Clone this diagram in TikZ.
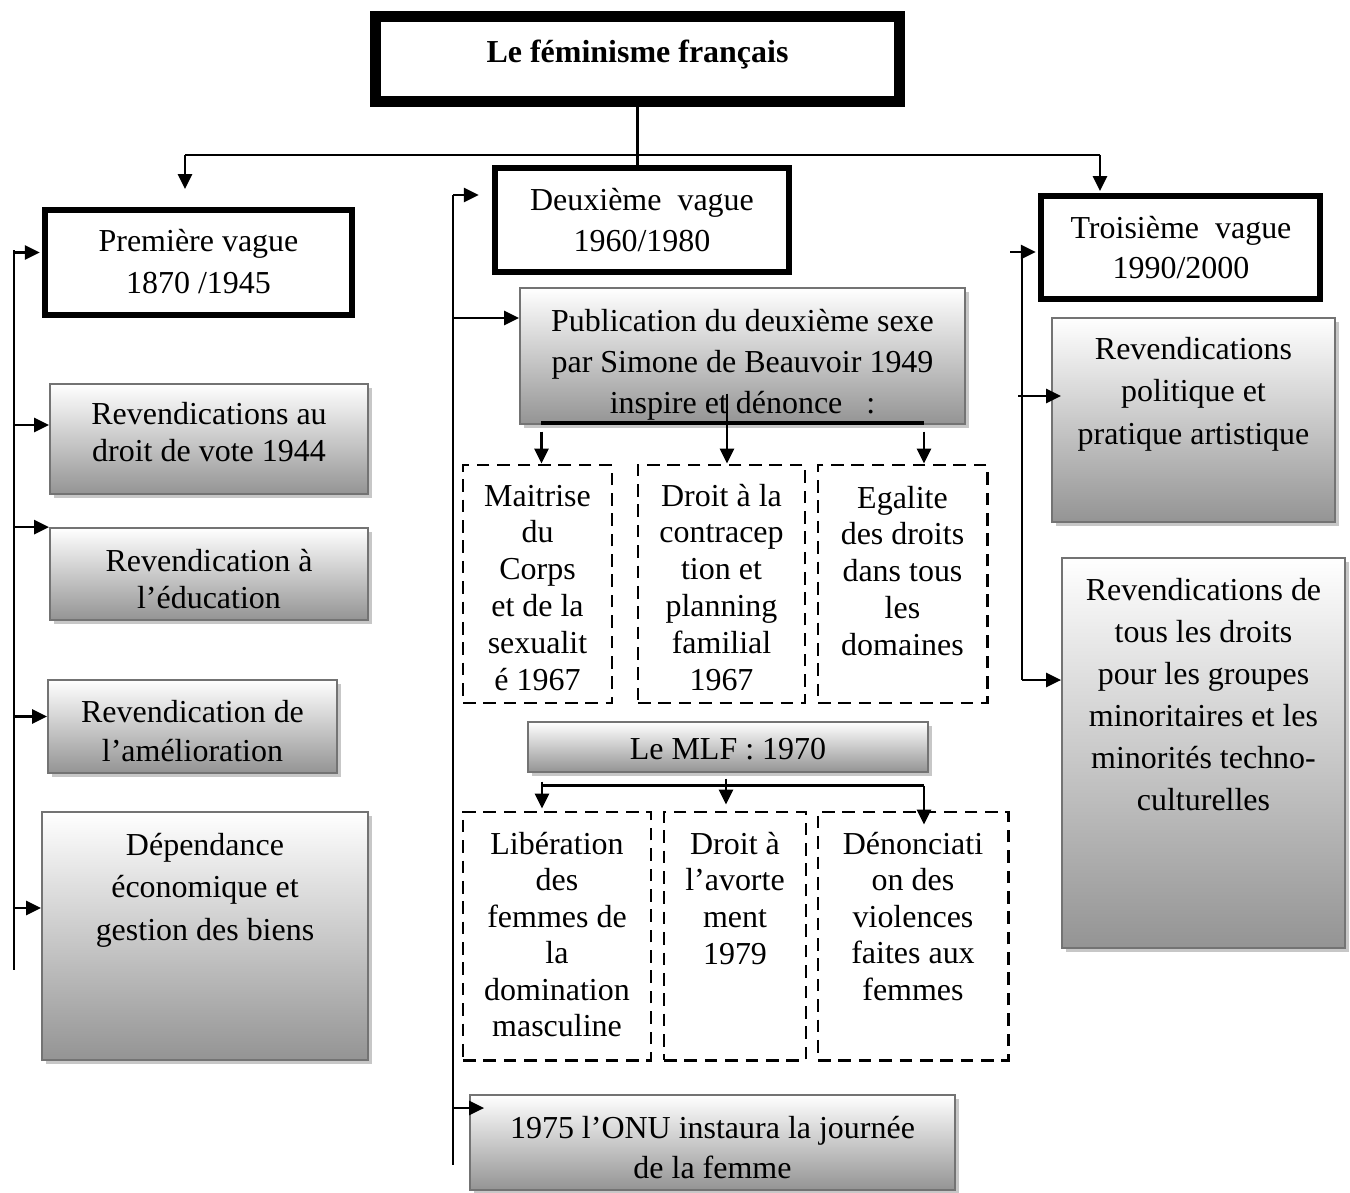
\documentclass[tikz,border=0pt]{standalone}
\usepackage{fontspec}
\setmainfont{Liberation Serif}
\usetikzlibrary{arrows.meta,shadows,calc}
\newcommand\mkbox[6]{\node[#1, minimum width={(#4-#2)*0.02cm}, minimum height={(#5-#3)*0.02cm}] (#6) at ({(#2+#4)/2},{(#3+#5)/2}) {};}
\newcommand\tb[2]{\parbox[t]{9cm}{\centering\fontsize{18.2pt}{#1}\selectfont #2\par}}
\tikzset{
  conn/.style={line width=1.4pt},
  arr/.style={line width=1.4pt,-{Triangle[length=8.5pt,width=8pt]}},
  wavebox/.style={draw,line width=3.6pt,inner sep=0pt},
  titlebox/.style={draw,line width=5.7pt,inner sep=0pt},
  gradbox/.style={draw=black!55,line width=1pt,top color=white,bottom color=black!42,inner sep=0pt,drop shadow={shadow xshift=2.3pt,shadow yshift=-2.3pt,fill=black!22,opacity=1}},
  dashbox/.style={draw,line width=1.7pt,dash pattern=on 7.2pt off 4.4pt,inner sep=0pt},
  txt/.style={anchor=base,inner sep=0pt},
}
\begin{document}
\begin{tikzpicture}[x=0.02cm,y=-0.02cm]
\useasboundingbox[fill=white] (0,0) rectangle (1350,1193);
% ---------- title
\mkbox{titlebox}{375}{16}{900}{102}{T}
\draw[line width=1.2pt] ([shift={(10,10)}]T.north west) rectangle ([shift={(-10,-10)}]T.south east);
\node[txt] (Tt) at (637.5,63) {\tb{22pt}{\bfseries Le féminisme français}};
% ---------- wave boxes
\mkbox{wavebox}{45}{210}{352}{315}{PV}
\node[txt] (PVt) at (198.5,252) {\tb{23.9pt}{Première vague\\1870 /1945}};
\mkbox{wavebox}{495}{168}{789}{272}{DV}
\node[txt] (DVt) at (642,211) {\tb{23.3pt}{Deuxième~ vague\\1960/1980}};
\mkbox{wavebox}{1041}{196}{1320}{299}{TV}
\node[txt] (TVt) at (1181,238) {\tb{23.3pt}{Troisième~ vague\\1990/2000}};
% ---------- left column
\mkbox{gradbox}{50}{384}{368}{494}{rv1}
\node[txt] (rv1t) at (209,424) {\tb{21.6pt}{Revendications au\\droit de vote 1944}};
\mkbox{gradbox}{50}{528}{368}{620}{rv2}
\node[txt] (rv2t) at (209,571) {\tb{21.1pt}{Revendication à\\l’éducation}};
\mkbox{gradbox}{48}{680}{337}{773}{rv3}
\begin{scope}
\clip (rv3.north west) rectangle (rv3.south east);
\node[txt] (rv3t) at (192.5,722) {\tb{22.2pt}{Revendication de\\l’amélioration}};
\end{scope}
\mkbox{gradbox}{42}{812}{368}{1060}{dep}
\node[txt] (dept) at (205,855) {\tb{24.2pt}{Dépendance\\économique et\\gestion des biens}};
% ---------- middle column
\mkbox{gradbox}{520}{288}{965}{424}{pub}
\begin{scope}
\clip (pub.north west) rectangle (pub.south east);
\node[txt] (pubt) at (742.5,331) {\tb{23.6pt}{Publication du deuxième sexe\\par Simone de Beauvoir 1949\\inspire et dénonce~~ :}};
\end{scope}
\mkbox{dashbox}{463}{465}{612}{703}{A}
\node[txt] (At) at (537.5,506) {\tb{21.05pt}{Maitrise\\du\\Corps\\et de la\\sexualit\\é 1967}};
\mkbox{dashbox}{638}{465}{805}{703}{B}
\node[txt] (Bt) at (721.5,506) {\tb{21.05pt}{Droit à la\\contracep\\tion et\\planning\\familial\\1967}};
\mkbox{dashbox}{818}{465}{987}{703}{C}
\node[txt] (Ct) at (902.5,508) {\tb{21.05pt}{Egalite\\des droits\\dans tous\\les\\domaines}};
\mkbox{gradbox}{528}{722}{928}{772}{mlf}
\node[txt] (mlft) at (728,759) {\tb{21pt}{Le MLF : 1970}};
\mkbox{dashbox}{463}{812}{651}{1060}{D}
\node[txt] (Dt) at (557,854) {\tb{20.8pt}{Libération\\des\\femmes de\\la\\domination\\masculine}};
\mkbox{dashbox}{664}{812}{806}{1060}{E}
\node[txt] (Et) at (735,854) {\tb{21.05pt}{Droit à\\l’avorte\\ment\\1979}};
\mkbox{dashbox}{818}{812}{1008}{1060}{F}
\node[txt] (Ft) at (913,854) {\tb{20.8pt}{Dénonciati\\on des\\violences\\faites aux\\femmes}};
\mkbox{gradbox}{470}{1095}{955}{1190}{onu}
\node[txt] (onut) at (712.5,1138) {\tb{23.3pt}{1975 l’ONU instaura la journée\\de la femme}};
% ---------- right column
\mkbox{gradbox}{1052}{318}{1335}{522}{rp1}
\node[txt] (rp1t) at (1193.5,359) {\tb{24.2pt}{Revendications\\politique et\\pratique artistique}};
\mkbox{gradbox}{1062}{558}{1345}{948}{rp2}
\node[txt] (rp2t) at (1203.5,600) {\tb{24pt}{Revendications de\\tous les droits\\pour les groupes\\minoritaires et les\\minorités techno-\\culturelles}};
% ---------- top connectors
\coordinate (hl) at (185,155);
\coordinate (hr) at (1100,155);
\coordinate (a1) at (185,189);
\coordinate (a3) at (1100,191);
\draw[conn] (T.south) -- (T.south |- DV.north);
\draw[conn] (hl) -- (hr);
\draw[arr] (hl) -- (a1);
\draw[arr] (hr) -- (a3);
% ---------- left spine
\coordinate (L1) at (14,250);
\coordinate (L2) at (14,970);
\draw[conn] (L1) -- (L2);
\coordinate (p1) at ($(PV.west)+(-2,-10)$);
\coordinate (p2) at ($(rv1.west)+(0,-14)$);
\coordinate (p3) at (rv2.north west);
\coordinate (p4) at ($(rv3.west)+(0,-10)$);
\coordinate (p5) at ($(dep.west)+(0,-28)$);
\foreach \p in {p1,p2,p3,p4,p5} {\draw[arr] (L1 |- \p) -- (\p);}
% ---------- middle spine
\coordinate (M1) at (453,195);
\coordinate (M2) at (453,1165);
\draw[conn] (M1) -- (M2);
\coordinate (m1) at ($(DV.west)+(-13,-25)$);
\coordinate (m2) at ($(pub.west)+(0,-38)$);
\coordinate (m3) at ($(onu.west)+(15,-34.5)$);
\foreach \p in {m1,m2,m3} {\draw[arr] (M1 |- \p) -- (\p);}
% ---------- right spine
\coordinate (R1) at (1022,250);
\coordinate (R2) at (1022,680);
\draw[conn] (R1) -- (R2);
\coordinate (r1) at ($(TV.west)+(-2,4.5)$);
\coordinate (r2) at ($(rp1.west)+(10,-24)$);
\coordinate (r3) at ($(rp2.west)+(0,-73)$);
\coordinate (r1s) at ($(R1 |- r1)+(-12,0)$);
\coordinate (r2s) at ($(R1 |- r2)+(-4,0)$);
\draw[arr] (r1s) -- (r1);
\draw[arr] (r2s) -- (r2);
\draw[arr] (R1 |- r3) -- (r3);
% ---------- publication connectors
\coordinate (q1) at (541,423);
\coordinate (q2) at (924,423);
\draw[line width=1.8pt] (q1) -- (q2);
\coordinate (ta) at ($(A.north)+(4,0)$);
\coordinate (tb) at ($(B.north)+(5.5,0)$);
\coordinate (tc) at ($(C.north)+(21.5,0)$);
\coordinate (sa) at ($(ta)+(0,-32)$);
\coordinate (sb) at ($(tb)+(0,-70)$);
\coordinate (sc) at ($(tc)+(0,-32)$);
\draw[arr] (sa) -- (ta);
\draw[arr] (sb) -- (tb);
\draw[arr] (sc) -- (tc);
% ---------- MLF connectors
\coordinate (u1) at ($(D.north)+(-15,-2)$);
\coordinate (u2) at ($(E.north)+(-9,-6)$);
\coordinate (u3) at ($(F.north)+(11,14)$);
\coordinate (v1) at ($(u1)+(0,-27)$);
\coordinate (v2) at ($(u2)+(0,-26)$);
\coordinate (v3) at ($(u3)+(0,-39)$);
\draw[conn] (u1 |- v3) -- (v3);
\draw[arr] (v1) -- (u1);
\draw[arr] (v2) -- (u2);
\draw[arr] (v3) -- (u3);
\end{tikzpicture}
\end{document}
